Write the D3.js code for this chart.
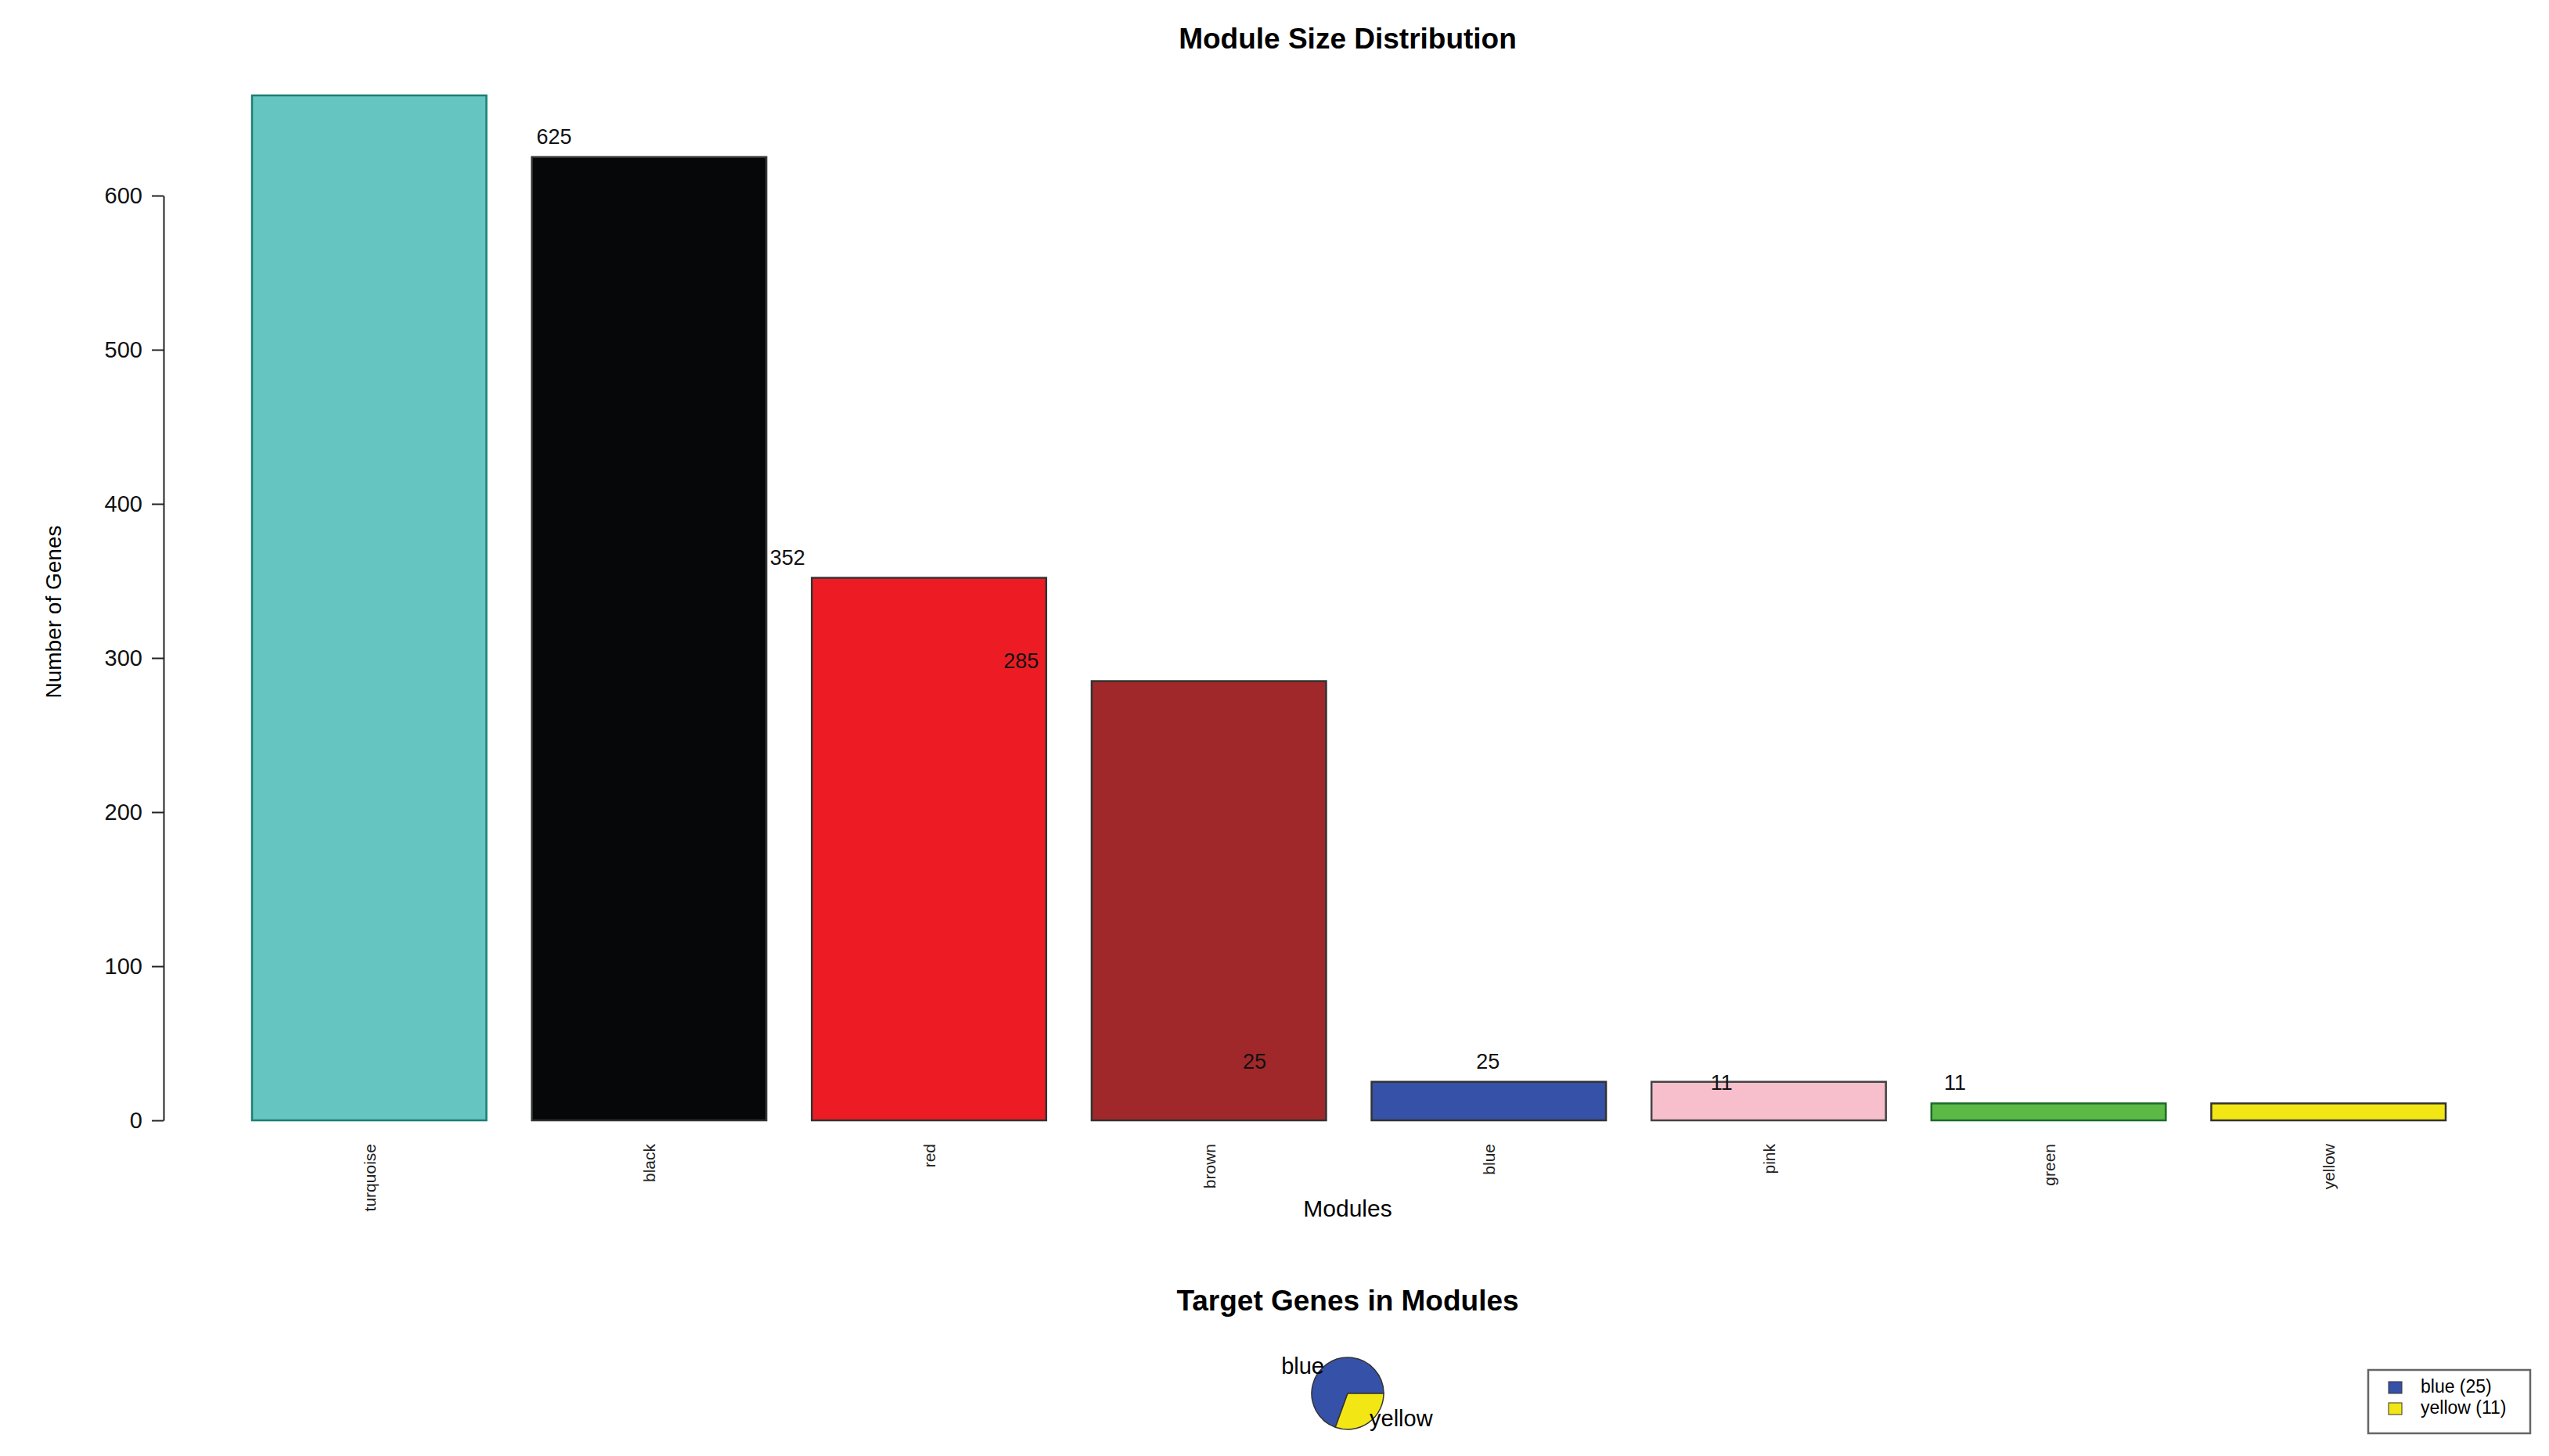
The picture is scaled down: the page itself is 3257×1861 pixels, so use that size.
<!DOCTYPE html>
<html><head><meta charset="utf-8">
<script src="https://cdn.jsdelivr.net/npm/d3@7"></script>
<style>body{margin:0;background:#fff}svg{display:block;font-family:"Liberation Sans",Arial,sans-serif}</style>
</head><body><svg id="c" width="3257" height="1861"></svg>
<script>
const modules = ["turquoise","black","red","brown","blue","pink","green","yellow"];
const sizes = [665,625,352,285,25,25,11,11];
const fills = ["#64c5c1","#060709","#ed1c24","#a1282a","#3651a8","#f7bfcb","#5cb946","#f2e714"];
const strokes = ["#1b7f72","#333","#333","#333","#333","#444","#1c6b2a","#333"];
const labelValues = [625,352,285,25,25,11,11];
const yTicks = [0,100,200,300,400,500,600];
const pieNames = ["blue","yellow"];
const pieValues = [25,11];
const pieColors = ["#3651a8","#f2e714"];

const svg = d3.select("#c");
const x = d3.scaleBand().domain(modules).range([322,3125]).paddingInner(0.1625).paddingOuter(0);
const y = d3.scaleLinear().domain([0,600]).range([1432,250]);
const lx = d3.scaleLinear().domain([0,6]).range([708,1900+2*299]);

svg.append("text").attr("x",1722).attr("y",62).attr("text-anchor","middle")
  .attr("font-weight","bold").attr("font-size",37).text("Module Size Distribution");

const ax = svg.append("g").attr("transform","translate(209,0)")
  .call(d3.axisLeft(y).tickValues(yTicks).tickSize(15).tickPadding(12).tickSizeOuter(0));
ax.select(".domain").attr("stroke","#222").attr("stroke-width",2);
ax.selectAll(".tick line").attr("stroke","#222").attr("stroke-width",2);
ax.selectAll(".tick text").attr("font-size",29).attr("fill","#111").attr("font-family","Liberation Sans,Arial,sans-serif");

svg.append("text").attr("transform","translate(78,782) rotate(-90)").attr("text-anchor","middle")
  .attr("font-size",28).text("Number of Genes");

svg.selectAll("rect.bar").data(modules).join("rect").attr("class","bar")
  .attr("x",d=>x(d)).attr("width",x.bandwidth())
  .attr("y",(d,i)=>y(sizes[i])).attr("height",(d,i)=>y(0)-y(sizes[i]))
  .attr("fill",(d,i)=>fills[i]).attr("stroke",(d,i)=>strokes[i]).attr("stroke-width",2.5);

svg.selectAll("text.val").data(labelValues).join("text").attr("class","val")
  .attr("x",(d,i)=>lx(i)).attr("y",d=>y(d)-17).attr("text-anchor","middle")
  .attr("font-size",27).attr("fill","#111").text(d=>d);

svg.selectAll("text.cat").data(modules).join("text").attr("class","cat")
  .attr("transform",d=>`translate(${x(d)+x.bandwidth()/2+8},1462) rotate(-90)`)
  .attr("text-anchor","end").attr("font-size",21).attr("fill","#222").text(d=>d);

svg.append("text").attr("x",1722).attr("y",1555).attr("text-anchor","middle")
  .attr("font-size",30).text("Modules");

svg.append("text").attr("x",1722).attr("y",1675).attr("text-anchor","middle")
  .attr("font-weight","bold").attr("font-size",37).text("Target Genes in Modules");

// pie: R style counterclockwise starting at 3 o'clock
const total = d3.sum(pieValues);
const pg = svg.append("g").attr("transform","translate(1722,1781)");
let start = Math.PI/2;
const arc = d3.arc().innerRadius(0).outerRadius(46);
pieValues.forEach((v,i)=>{
  const end = start - v/total*2*Math.PI;
  pg.append("path").attr("d",arc({startAngle:end,endAngle:start}))
    .attr("fill",pieColors[i]).attr("stroke","#333").attr("stroke-width",1.5);
  start = end;
});
svg.append("text").attr("x",1692).attr("y",1756).attr("text-anchor","end").attr("font-size",29).text(pieNames[0]);
svg.append("text").attr("x",1750).attr("y",1823).attr("text-anchor","start").attr("font-size",29).text(pieNames[1]);

const lg = svg.append("g");
lg.append("rect").attr("x",3026).attr("y",1751).attr("width",207).attr("height",81)
  .attr("fill","#fff").attr("stroke","#666").attr("stroke-width",2.5);
pieNames.forEach((n,i)=>{
  const yy = 1766 + i*27;
  lg.append("rect").attr("x",3052).attr("y",yy).attr("width",17).attr("height",15)
    .attr("fill",pieColors[i]).attr("stroke","#333");
  lg.append("text").attr("x",3093).attr("y",yy+14).attr("font-size",23).text(`${n} (${pieValues[i]})`);
});
</script></body></html>
